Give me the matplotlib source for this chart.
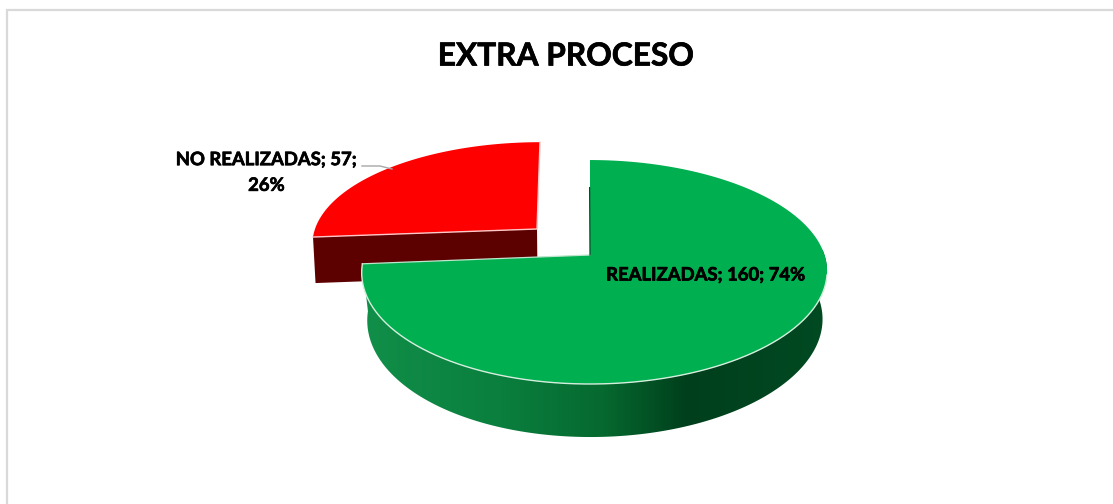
import numpy as np
import matplotlib
matplotlib.use("Agg")
import matplotlib.pyplot as plt
import matplotlib.patheffects as pe
from matplotlib.colors import LinearSegmentedColormap
from matplotlib.patches import Polygon

title = "EXTRA PROCESO"
categories = ["REALIZADAS", "NO REALIZADAS"]
values = [160, 57]

plt.rcParams['font.family'] = ['Lato', 'DejaVu Sans']
fig = plt.figure(figsize=(11.13, 5.04), dpi=100, facecolor='white')
ax = fig.add_axes([0, 0, 1, 1])
ax.axis('off')

K = 0.152
total = sum(values)
fracs = np.array(values) / total
edges = np.concatenate([[0], np.cumsum(fracs)]) * 2 * np.pi


def project(theta, cx, cy, rx, ry, side_shift=0.0, top_shift=0.0, r=1.0):
    u = r * np.sin(theta)
    v = r * np.cos(theta)
    d = 1 + K * v
    shift = r * (side_shift * np.sin(theta) ** 2 + top_shift * np.cos(theta) ** 2)
    return cx + rx * u / d + shift, cy - ry * v / d


def rim(t0, t1, disc, n=240):
    t = np.linspace(t0, t1, n)
    x, y = project(t, *disc)
    return np.column_stack([x, y])


# geometry: (vertex x, vertex y, x radius, y radius, sideways skew, top skew)
green_top = (590, 255, 230, 109.4, 4.5, 0)
green_bot = (590.5, 302, 225, 114.5, 4.5, 0)
red_top = (537, 229, 222, 100, 0, 3)
red_bot = (537.5, 275, 220, 100, 0, 3)

# --- red slice (drawn first, it sits behind) ---
t0, t1 = edges[1], edges[2]
p_top = project(t0, *red_top)
p_bot = project(t0, *red_bot)
ax.add_patch(Polygon([red_top[:2], p_top, p_bot, red_bot[:2]], closed=True,
                     fc='#5c0000', ec='none', zorder=2))
red_rim = rim(t0, t1, red_top)
ax.add_patch(Polygon(np.vstack([[red_top[:2]], red_rim]), closed=True,
                     fc='#ff0000', ec='none', zorder=3))
ax.plot([p_top[0], red_top[0], red_rim[-1, 0]], [p_top[1], red_top[1], red_rim[-1, 1]],
        color='#ffc8c8', lw=1.0, zorder=4, solid_joinstyle='miter')

# --- green slice ---
t0, t1 = edges[0], edges[1]
side = np.vstack([rim(1.2, t1, green_top), rim(t1, 1.2, green_bot)])
grad_stops = [(0.0, '#118f49'), (0.30, '#0a7f3e'), (0.52, '#06692f'),
              (0.70, '#003f1c'), (1.0, '#004a22')]
cmap = LinearSegmentedColormap.from_list('side', grad_stops)
img = ax.imshow(np.linspace(0, 1, 256).reshape(1, -1), cmap=cmap, aspect='auto',
                extent=(361, 827, 440, 250), zorder=5, interpolation='bilinear')
clip = Polygon(side, closed=True, transform=ax.transData, fc='none', ec='none')
ax.add_patch(clip)
img.set_clip_path(clip)

green_rim = rim(t0, t1, green_top)
ax.add_patch(Polygon(np.vstack([[green_top[:2]], green_rim]), closed=True,
                     fc='#00b050', ec='none', zorder=6))
# light edge along the front rim and along the cut
front = rim(1.75, t1, green_top)
ax.plot(front[:, 0], front[:, 1], color='#d5eedd', lw=1.0, zorder=7)
ax.plot([green_top[0], green_rim[-1, 0]], [green_top[1], green_rim[-1, 1]],
        color='#bfe6cd', lw=0.9, zorder=7)
# dark sliver of the inner cut face
sx, sy = project(t0, *green_top, r=0.68)
ax.plot([green_top[0], sx - 0.4], [green_top[1], sy], color='#014d25', lw=0.9, zorder=7)

ax.set_xlim(0, 1113)
ax.set_ylim(504, 0)

# --- chart frame: only top and left borders are visible ---
ax.plot([7, 7, 1113], [504, 10, 10], color='#d9d9d9', lw=1.6, zorder=1,
        solid_joinstyle='miter')

# --- text ---
thick = [pe.withStroke(linewidth=0.5, foreground='black')]
ax.text(565.5, 56, title, fontsize=22.8, fontweight='bold', ha='center', va='center',
        color='black', zorder=10, path_effects=thick)
ax.text(706, 275, f"{categories[0]}; {values[0]}; {round(100 * fracs[0])}%",
        fontsize=13.3, fontweight='bold', ha='center', va='center', color='black',
        zorder=10, path_effects=thick)
ax.text(266.5, 172.5, f"{categories[1]}; {values[1]};\n{round(100 * fracs[1])}%",
        fontsize=13.3, fontweight='bold', ha='center', va='center', color='black',
        linespacing=1.62, zorder=10, path_effects=thick)
ax.plot([362, 380, 392], [166, 166, 169], color='#a6a6a6', lw=1.0, zorder=9)

fig.savefig('out.png', dpi=100, facecolor='white')
